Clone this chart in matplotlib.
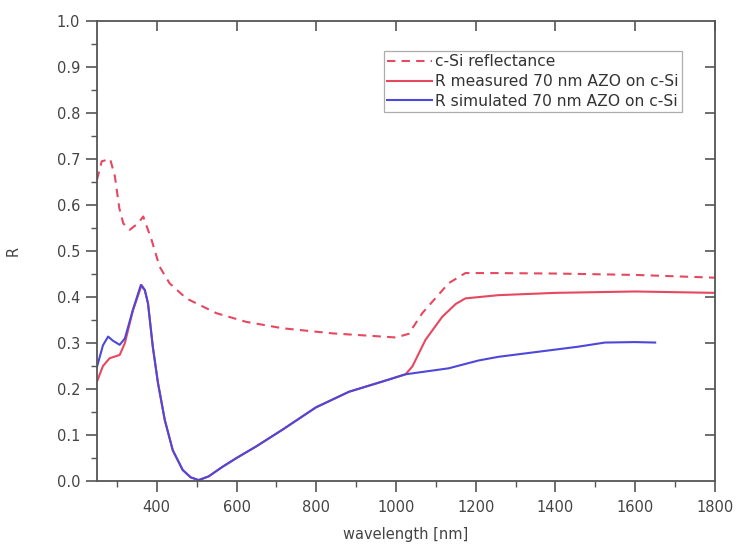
import matplotlib
matplotlib.use("Agg")
import matplotlib.pyplot as plt
from matplotlib.ticker import MultipleLocator, FormatStrFormatter

# c-Si reference reflectance (dashed)
csi_wl = [250, 262, 283, 295, 306, 316, 332, 353, 366, 387, 407, 432, 474, 549,
          624, 716, 840, 1000, 1032, 1066, 1132, 1174, 1250, 1400, 1600, 1800]
csi_r = [0.655, 0.695, 0.700, 0.662, 0.593, 0.560, 0.546, 0.560, 0.575, 0.524,
         0.466, 0.430, 0.397, 0.365, 0.346, 0.332, 0.321, 0.312, 0.320, 0.365,
         0.430, 0.452, 0.452, 0.451, 0.448, 0.442]

# measured reflectance, 70 nm AZO on c-Si
meas_wl = [250, 265, 282, 307, 320, 340, 362, 370, 378, 390, 403, 420, 440, 465,
           485, 505, 530, 565, 600, 649, 716, 799, 882, 965, 1024, 1041, 1074,
           1116, 1150, 1174, 1257, 1400, 1600, 1800]
meas_r = [0.216, 0.250, 0.267, 0.274, 0.300, 0.370, 0.426, 0.415, 0.386, 0.292,
          0.213, 0.133, 0.067, 0.024, 0.008, 0.002, 0.010, 0.031, 0.050, 0.075,
          0.112, 0.160, 0.194, 0.216, 0.232, 0.249, 0.307, 0.357, 0.385, 0.397,
          0.404, 0.409, 0.412, 0.409]

# simulated reflectance, 70 nm AZO on c-Si
sim_wl = [250, 265, 278, 290, 307, 320, 340, 360, 370, 378, 390, 403, 420, 440,
          465, 485, 505, 530, 565, 600, 649, 716, 799, 882, 965, 1024, 1132,
          1207, 1257, 1457, 1524, 1600, 1650]
sim_r = [0.248, 0.295, 0.314, 0.305, 0.296, 0.310, 0.372, 0.426, 0.415, 0.386,
         0.292, 0.213, 0.133, 0.067, 0.024, 0.008, 0.002, 0.010, 0.031, 0.050,
         0.075, 0.112, 0.160, 0.194, 0.216, 0.232, 0.245, 0.262, 0.270, 0.292,
         0.301, 0.302, 0.301]

labels = ["c-Si reflectance", "R measured 70 nm AZO on c-Si",
          "R simulated 70 nm AZO on c-Si"]
x_ticks = [400, 600, 800, 1000, 1200, 1400, 1600, 1800]

plt.rcParams["font.family"] = ["DejaVu Sans"]
plt.rcParams["font.size"] = 10.5

red = "#e6485f"
blue = "#4e48da"
axis_col = "#555555"
text_col = "#444444"

fig = plt.figure(figsize=(7.38, 5.45), dpi=100)
ax = fig.add_axes([0.1314, 0.1174, 0.9688 - 0.1314, 0.9615 - 0.1174])

ax.plot(csi_wl, csi_r, color=red, lw=1.5, ls=(0, (4, 3)), label=labels[0])
ax.plot(meas_wl, meas_r, color=red, lw=1.5, label=labels[1])
ax.plot(sim_wl, sim_r, color=blue, lw=1.5, label=labels[2])

ax.set_xlim(250, 1800)
ax.set_ylim(0.0, 1.0)
ax.set_xticks(x_ticks)
ax.xaxis.set_minor_locator(MultipleLocator(100))
ax.yaxis.set_major_locator(MultipleLocator(0.1))
ax.yaxis.set_minor_locator(MultipleLocator(0.05))
ax.yaxis.set_major_formatter(FormatStrFormatter("%.1f"))

for s in ax.spines.values():
    s.set_color(axis_col)
    s.set_linewidth(1.3)

ax.tick_params(axis="both", which="major", direction="out", length=8,
               width=1.2, color=axis_col, labelcolor=text_col, labelsize=10.5)
ax.tick_params(axis="both", which="minor", direction="out", length=4,
               width=1.0, color=axis_col)
ax.tick_params(axis="x", which="major", pad=6)
ax.tick_params(axis="y", which="major", pad=4)

# mirrored major ticks on the top and right edges
top = ax.secondary_xaxis("top")
top.set_xticks(x_ticks)
top.tick_params(direction="in", length=7, width=1.2, color=axis_col,
                labeltop=False)
top.spines["top"].set_visible(False)
right = ax.secondary_yaxis("right")
right.set_yticks([0.1 * i for i in range(1, 10)])
right.tick_params(direction="in", length=7, width=1.2, color=axis_col,
                  labelright=False)
right.spines["right"].set_visible(False)

ax.set_xlabel("wavelength [nm]", color=text_col, fontsize=10.5, labelpad=8)
ax.set_ylabel("R", color=text_col, fontsize=10.5, labelpad=26)

leg = ax.legend(loc="upper left", bbox_to_anchor=(0.464, 0.934),
                frameon=True, fancybox=False, edgecolor="#999999",
                fontsize=11.2, handlelength=2.9, handletextpad=0.2,
                borderpad=0.2, borderaxespad=0.0, labelspacing=0.3)
leg.get_frame().set_linewidth(0.9)
for t in leg.get_texts():
    t.set_color("#333333")

fig.savefig("out.png", dpi=100, facecolor="white")
